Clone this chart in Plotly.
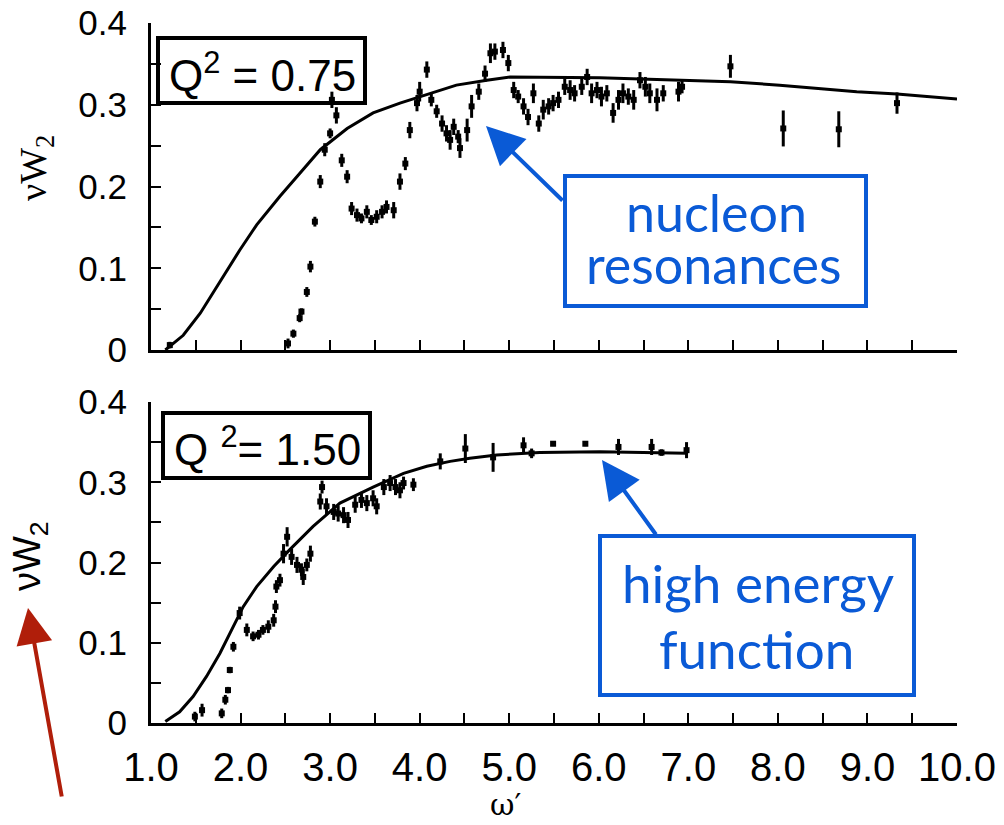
import plotly.graph_objects as go

# ---------------- data ----------------
# Q^2 = 0.75 : high-energy function (smooth curve)
top_curve_w = [1.16, 1.36, 1.55, 1.81, 1.99, 2.18, 2.44, 2.66, 2.89, 3.19, 3.48, 3.78, 4.00,
               4.41, 4.75, 5.01, 6.01, 6.91, 7.47, 8.02, 8.47, 8.88, 9.33, 9.73, 10.0]
top_curve_v = [0.000, 0.018, 0.045, 0.090, 0.122, 0.153, 0.188, 0.216, 0.245, 0.271, 0.290, 0.302, 0.310,
               0.324, 0.330, 0.334, 0.333, 0.330, 0.328, 0.324, 0.320, 0.316, 0.313, 0.309, 0.307]

# Q^2 = 0.75 : resonance-region data
top_data_w = [1.21, 2.53, 2.59, 2.66, 2.68, 2.74, 2.78, 2.83, 2.89, 2.94, 3.00, 3.02, 3.07, 3.13, 3.19,
              3.24, 3.30, 3.35, 3.41, 3.46, 3.52, 3.58, 3.63, 3.71, 3.78, 3.84, 3.89, 3.97, 4.00, 4.08,
              4.13, 4.19, 4.25, 4.30, 4.34, 4.38, 4.43, 4.45, 4.53, 4.58, 4.66, 4.73, 4.79, 4.84, 4.93,
              4.99, 5.05, 5.10, 5.16, 5.21, 5.27, 5.33, 5.38, 5.44, 5.49, 5.55, 5.62, 5.68, 5.73, 5.81,
              5.87, 5.92, 5.98, 6.03, 6.09, 6.16, 6.22, 6.27, 6.33, 6.39, 6.46, 6.52, 6.57, 6.65, 6.72,
              6.89, 6.93, 7.47, 8.06, 8.68, 9.33]
top_data_v = [0.006, 0.008, 0.020, 0.039, 0.047, 0.071, 0.102, 0.157, 0.206, 0.245, 0.265, 0.306, 0.287, 0.232, 0.212,
              0.173, 0.165, 0.161, 0.169, 0.159, 0.163, 0.169, 0.175, 0.171, 0.206, 0.228, 0.269, 0.302, 0.316, 0.343,
              0.306, 0.292, 0.277, 0.265, 0.257, 0.273, 0.261, 0.247, 0.269, 0.298, 0.316, 0.338, 0.363, 0.365, 0.367,
              0.351, 0.318, 0.310, 0.298, 0.285, 0.314, 0.277, 0.294, 0.298, 0.302, 0.306, 0.322, 0.318, 0.314, 0.322,
              0.334, 0.314, 0.318, 0.310, 0.314, 0.290, 0.306, 0.314, 0.310, 0.306, 0.330, 0.322, 0.314, 0.306, 0.314,
              0.316, 0.322, 0.347, 0.271, 0.270, 0.302]
top_data_e = [0.004, 0.006, 0.005, 0.005, 0.004, 0.006, 0.007, 0.006, 0.008, 0.008, 0.006, 0.010, 0.010, 0.008, 0.008,
              0.008, 0.008, 0.006, 0.008, 0.006, 0.008, 0.008, 0.008, 0.010, 0.010, 0.008, 0.010, 0.010, 0.012, 0.010,
              0.008, 0.008, 0.010, 0.010, 0.012, 0.010, 0.008, 0.012, 0.014, 0.014, 0.010, 0.010, 0.012, 0.010, 0.010,
              0.010, 0.010, 0.008, 0.010, 0.010, 0.012, 0.010, 0.012, 0.010, 0.010, 0.010, 0.010, 0.012, 0.010, 0.010,
              0.010, 0.012, 0.010, 0.012, 0.010, 0.012, 0.012, 0.012, 0.010, 0.012, 0.010, 0.012, 0.012, 0.014, 0.010,
              0.012, 0.008, 0.014, 0.022, 0.022, 0.013]

# Q^2 = 1.50 : high-energy function
bot_curve_w = [1.16, 1.32, 1.47, 1.62, 1.77, 1.92, 2.03, 2.18, 2.37, 2.55, 2.81, 3.11, 3.48, 3.82,
               4.08, 4.34, 4.56, 4.86, 5.34, 6.01, 6.98]
bot_curve_v = [0.002, 0.014, 0.033, 0.058, 0.087, 0.120, 0.145, 0.170, 0.195, 0.216, 0.245, 0.274, 0.294, 0.311,
               0.320, 0.326, 0.330, 0.334, 0.337, 0.338, 0.336]

# Q^2 = 1.50 : data
bot_data_w = [1.49, 1.57, 1.79, 1.83, 1.86, 1.88, 1.92, 1.99, 2.07, 2.14, 2.20, 2.25, 2.31, 2.37, 2.39,
              2.40, 2.44, 2.48, 2.52, 2.57, 2.63, 2.68, 2.70, 2.74, 2.78, 2.89, 2.91, 2.96, 3.04, 3.09,
              3.15, 3.20, 3.28, 3.35, 3.41, 3.48, 3.52, 3.60, 3.67, 3.73, 3.78, 3.82, 3.93, 4.23, 4.51,
              4.82, 5.16, 5.25, 5.49, 5.85, 6.22, 6.59, 6.70, 6.98]
bot_data_v = [0.008, 0.016, 0.012, 0.029, 0.041, 0.066, 0.095, 0.137, 0.116, 0.108, 0.110, 0.116, 0.120, 0.128, 0.145,
              0.170, 0.178, 0.211, 0.232, 0.207, 0.197, 0.191, 0.182, 0.197, 0.211, 0.276, 0.294, 0.270, 0.263, 0.261,
              0.259, 0.253, 0.272, 0.278, 0.274, 0.280, 0.270, 0.294, 0.299, 0.294, 0.290, 0.299, 0.297, 0.326, 0.342,
              0.331, 0.346, 0.336, 0.348, 0.348, 0.344, 0.344, 0.337, 0.340]
bot_data_e = [0.006, 0.008, 0.006, 0.006, 0.004, 0.004, 0.006, 0.008, 0.008, 0.006, 0.006, 0.006, 0.008, 0.008, 0.008,
              0.008, 0.008, 0.012, 0.012, 0.010, 0.010, 0.008, 0.010, 0.008, 0.010, 0.010, 0.008, 0.010, 0.010, 0.010,
              0.010, 0.010, 0.010, 0.010, 0.010, 0.010, 0.010, 0.010, 0.010, 0.010, 0.010, 0.008, 0.008, 0.010, 0.018,
              0.018, 0.010, 0.006, 0.003, 0.003, 0.010, 0.010, 0.004, 0.010]

x_ticks = [1, 2, 3, 4, 5, 6, 7, 8, 9, 10]
x_tick_text = ["1.0", "2.0", "3.0", "4.0", "5.0", "6.0", "7.0", "8.0", "9.0", "10.0"]
y_ticks = [0, 0.1, 0.2, 0.3, 0.4]
y_tick_text = ["0", "0.1", "0.2", "0.3", "0.4"]

# ---------------- layout helpers ----------------
W, H = 1004, 825
def PX(x):
    return x / W
def PY(y):
    return 1 - y / H

BLUE = "#0A5AD6"
RED = "#B01E0A"

fig = go.Figure()

def add_panel(cw, cv, dw, dv, de, xa, ya):
    fig.add_trace(go.Scatter(x=cw, y=cv, mode="lines", xaxis=xa, yaxis=ya,
                             line=dict(color="black", width=3), showlegend=False))
    fig.add_trace(go.Scatter(x=dw, y=dv, mode="markers", xaxis=xa, yaxis=ya,
                             marker=dict(symbol="square", size=6, color="black"),
                             error_y=dict(type="data", array=de, visible=True,
                                          color="black", thickness=3, width=0),
                             showlegend=False))

add_panel(top_curve_w, top_curve_v, top_data_w, top_data_v, top_data_e, "x", "y")
add_panel(bot_curve_w, bot_curve_v, bot_data_w, bot_data_v, bot_data_e, "x2", "y2")

tickfont = dict(family="Liberation Sans, Arial, sans-serif", size=35, color="black")
xcommon = dict(range=[1, 10], domain=[PX(151), PX(957)], showline=True, linecolor="black",
               linewidth=3, ticks="inside", ticklen=10, tickwidth=2, tickcolor="black",
               tickvals=x_ticks, ticktext=x_tick_text, showgrid=False, zeroline=False,
               automargin=False,
               minor=dict(dtick=0.5, tick0=1, ticks="inside", ticklen=10, tickwidth=2, tickcolor="black"),
               tickfont=dict(family="Liberation Sans Narrow, Liberation Sans, Arial, sans-serif", size=40, color="black"),
               ticklabelstandoff=7, fixedrange=True)
ycommon = dict(range=[0, 0.4], showline=True, linecolor="black", linewidth=3,
               ticks="inside", ticklen=10, tickwidth=2, tickcolor="black",
               tickvals=y_ticks, ticktext=y_tick_text, showgrid=False, zeroline=False,
               automargin=False,
               minor=dict(dtick=0.05, tick0=0, ticks="inside", ticklen=10, tickwidth=2, tickcolor="black"),
               tickfont=tickfont, ticklabelstandoff=14, fixedrange=True)

fig.update_layout(
    width=W, height=H, margin=dict(l=0, r=0, t=0, b=0, autoexpand=False),
    paper_bgcolor="white", plot_bgcolor="white",
    xaxis=dict(**xcommon, anchor="y", showticklabels=False),
    yaxis=dict(**ycommon, anchor="x", domain=[PY(350), PY(23)]),
    xaxis2=dict(**xcommon, anchor="y2"),
    yaxis2=dict(**ycommon, anchor="x2", domain=[PY(723), PY(402)]),
)

shapes = [
    dict(type="rect", xref="paper", yref="paper", x0=PX(158), x1=PX(365), y0=PY(103), y1=PY(38),
         line=dict(color="black", width=4)),
    dict(type="rect", xref="paper", yref="paper", x0=PX(163), x1=PX(370), y0=PY(478), y1=PY(413),
         line=dict(color="black", width=4)),
    dict(type="rect", xref="paper", yref="paper", x0=PX(565), x1=PX(866), y0=PY(306), y1=PY(176),
         line=dict(color=BLUE, width=4)),
    dict(type="rect", xref="paper", yref="paper", x0=PX(600), x1=PX(914), y0=PY(695), y1=PY(536),
         line=dict(color=BLUE, width=4)),
]
fig.update_layout(shapes=shapes)

def txt(text, x, y, size, color="black", family="Liberation Sans, Arial, sans-serif", angle=0,
        yanchor="middle"):
    return dict(text=text, xref="paper", yref="paper", x=PX(x), y=PY(y), showarrow=False,
                xanchor="center", yanchor=yanchor, textangle=angle,
                font=dict(family=family, size=size, color=color))

def arrow(x_tip, y_tip, x_tail, y_tail, color, width, size):
    return dict(text="", xref="paper", yref="paper", x=PX(x_tip), y=PY(y_tip),
                ax=x_tail - x_tip, ay=y_tail - y_tip, showarrow=True,
                arrowhead=2, arrowsize=size, arrowwidth=width, arrowcolor=color, standoff=0)

GILL = "Lato, Open Sans, sans-serif"
ann = [
    txt("Q<sup>2</sup> = 0.75", 262, 72, 44),
    txt("Q <sup>2</sup>= 1.50", 267, 446, 44),
    txt("nucleon", 716, 212, 52, BLUE, GILL),
    txt("resonances", 714, 264, 52, BLUE, GILL),
    txt("high energy", 758, 582, 53, BLUE, GILL),
    txt("function", 756, 648, 53, BLUE, GILL),
    txt("νW<sub>2</sub>", 36, 168, 38, angle=-90, family="Liberation Serif, serif"),
    txt("νW<sub>2</sub>", 30, 556, 38, angle=-90),
    txt("ω′", 505, 824, 30, family="DejaVu Serif, serif", yanchor="bottom"),
    arrow(486, 126, 564, 202, BLUE, 4, 1.9),
    arrow(602, 460, 657, 536, BLUE, 4, 1.9),
    arrow(28, 608, 62, 798, RED, 4, 1.8),
]
fig.update_layout(annotations=ann)

fig.write_html("out.html")
